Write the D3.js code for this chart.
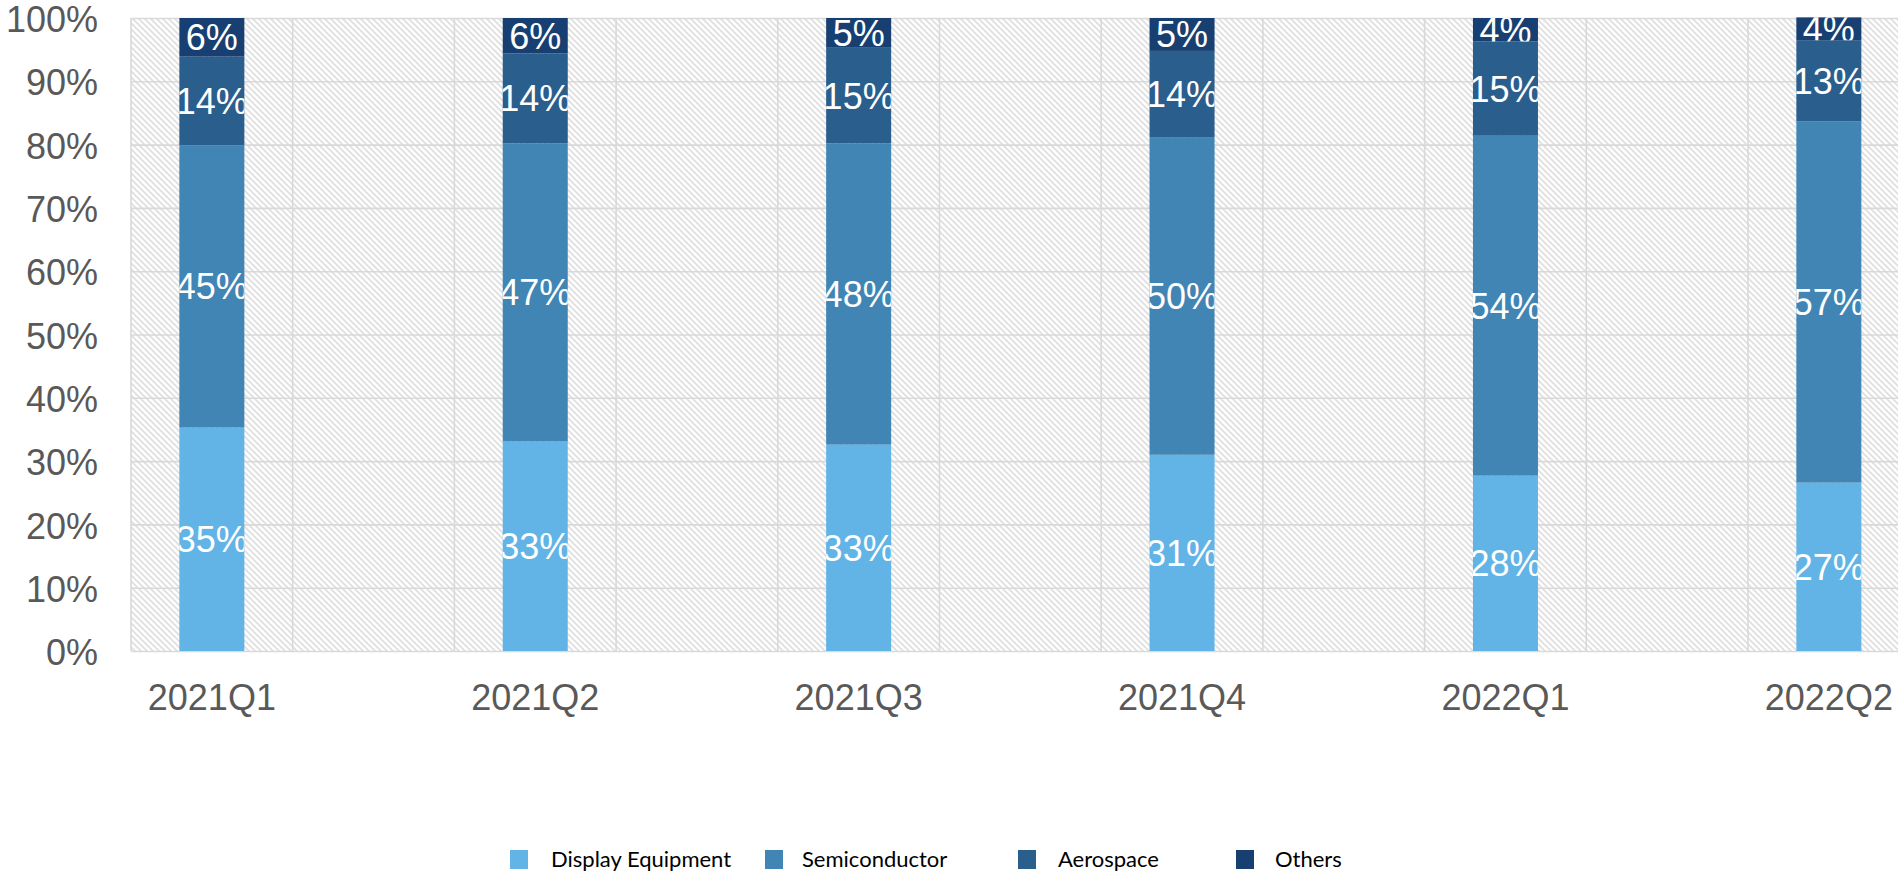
<!DOCTYPE html>
<html>
<head>
<meta charset="utf-8">
<script src="https://cdn.jsdelivr.net/npm/d3@7"></script>
<style>
  html, body { margin: 0; padding: 0; background: #fff; }
  svg { display: block; }
</style>
</head>
<body>
<svg id="chart" width="1898" height="873"></svg>
<script>
// ---- data ----
const categories = ["2021Q1", "2021Q2", "2021Q3", "2021Q4", "2022Q1", "2022Q2"];
const seriesNames = ["Display Equipment", "Semiconductor", "Aerospace", "Others"];
const displayEquipment = [35.3, 33.1, 32.6, 31.0, 27.7, 26.6];
const semiconductor    = [44.6, 47.1, 47.6, 50.1, 53.7, 57.1];
const aerospace        = [14.0, 14.2, 15.1, 13.7, 14.9, 12.8];
const others           = [6.1, 5.6, 4.7, 5.2, 3.7, 3.6];
const yTicks = [0, 10, 20, 30, 40, 50, 60, 70, 80, 90, 100];
const colors = ["#62b4e6", "#4185b5", "#2a5e8d", "#173f71"];

const seriesValues = [displayEquipment, semiconductor, aerospace, others];
const table = categories.map((c, i) => {
  const row = { category: c };
  seriesNames.forEach((s, j) => row[s] = seriesValues[j][i]);
  return row;
});

// ---- layout ----
const svg = d3.select("#chart");
const plotLeft = 131, plotRight = 1898, plotTop = 18, plotBottom = 651;

const y = d3.scaleLinear().domain([0, 100]).range([plotBottom, plotTop]);
const x = d3.scaleBand().domain(categories)
  .range([50.15, 1990.55]).paddingInner(0.799).paddingOuter(0.3995);
const step = x.step();

// defs: hatch pattern + clips
const defs = svg.append("defs");
const P = 6;
const pat = defs.append("pattern").attr("id", "hatch")
  .attr("patternUnits", "userSpaceOnUse").attr("width", P).attr("height", P);
pat.append("rect").attr("width", P).attr("height", P).attr("fill", "#ffffff");
pat.append("path").attr("d", `M-2,-2 L${P+2},${P+2} M-2,${P-2} L2,${P+2} M${P-2},-2 L${P+2},2`)
  .attr("stroke", "#e0e0e0").attr("stroke-width", 1.9);

defs.append("clipPath").attr("id", "plotClip").append("rect")
  .attr("x", plotLeft - 1).attr("y", plotTop - 2)
  .attr("width", plotRight - plotLeft + 2).attr("height", plotBottom - plotTop + 4);

// background hatch
svg.append("rect").attr("x", plotLeft).attr("y", plotTop)
  .attr("width", plotRight - plotLeft).attr("height", plotBottom - plotTop)
  .attr("fill", "url(#hatch)");

const gridColor = "#d9d9d9";
const plot = svg.append("g").attr("clip-path", "url(#plotClip)");

// vertical gridlines (quarter positions of each category band)
const vLines = [];
categories.forEach(c => {
  const cx = x(c) + x.bandwidth() / 2;
  vLines.push(cx - step / 4, cx + step / 4);
});
plot.append("g").selectAll("line").data(vLines).join("line")
  .attr("x1", d => d).attr("x2", d => d)
  .attr("y1", plotTop).attr("y2", plotBottom)
  .attr("stroke", gridColor).attr("stroke-width", 1.6);

// horizontal gridlines via axis
const gridAxis = d3.axisLeft(y).tickValues(yTicks).tickSize(-(plotRight - plotLeft)).tickFormat("");
const gg = plot.append("g").attr("transform", `translate(${plotLeft},0)`).call(gridAxis);
gg.select(".domain").remove();
gg.selectAll(".tick line").attr("stroke", gridColor).attr("stroke-width", 1.6);

// bars
const stack = d3.stack().keys(seriesNames);
const stacked = stack(table);

const barGroups = svg.append("g");
stacked.forEach((layer, li) => {
  layer.forEach((d, i) => {
    const id = `clip-${li}-${i}`;
    const bx = x(categories[i]);
    const by = y(d[1]);
    const bh = y(d[0]) - y(d[1]);
    defs.append("clipPath").attr("id", id).append("rect")
      .attr("x", bx).attr("y", by).attr("width", x.bandwidth()).attr("height", bh);
    const g = barGroups.append("g");
    g.append("rect")
      .attr("x", bx).attr("y", by).attr("width", x.bandwidth()).attr("height", bh)
      .attr("fill", colors[li]);
    g.append("text")
      .attr("clip-path", `url(#${id})`)
      .attr("x", bx + x.bandwidth() / 2)
      .attr("y", (y(d[0]) + y(d[1])) / 2)
      .attr("dy", "0.36em")
      .attr("text-anchor", "middle")
      .attr("font-family", "'Liberation Sans', Arial, sans-serif")
      .attr("font-size", 36)
      .attr("fill", "#ffffff")
      .text(Math.round(d[1] - d[0]) + "%");
  });
});

// y axis labels
const yAxis = d3.axisLeft(y).tickValues(yTicks).tickSize(0).tickPadding(33)
  .tickFormat(d => d + "%");
const ya = svg.append("g").attr("transform", `translate(${plotLeft},0)`).call(yAxis);
ya.select(".domain").remove();
ya.selectAll("text").attr("font-family", "'Liberation Sans', Arial, sans-serif")
  .attr("font-size", 36).attr("fill", "#595959").attr("dy", "0.38em");

// x axis labels
const xAxis = d3.axisBottom(x).tickSize(0).tickPadding(33);
const xa = svg.append("g").attr("transform", `translate(0,${plotBottom})`).call(xAxis);
xa.select(".domain").remove();
xa.selectAll("text").attr("font-family", "'Liberation Sans', Arial, sans-serif")
  .attr("font-size", 36).attr("fill", "#595959");

// legend
const legendX = [510, 765, 1018, 1236];
const legendTextX = [551, 802, 1058, 1275];
const legend = svg.append("g");
seriesNames.forEach((s, i) => {
  legend.append("rect").attr("x", legendX[i]).attr("y", 850)
    .attr("width", 18).attr("height", 19).attr("fill", colors[i]);
  legend.append("text").attr("x", legendTextX[i]).attr("y", 859).attr("dy", "0.35em")
    .attr("font-family", "Lato, 'Open Sans', sans-serif").attr("font-size", 22)
    .attr("fill", "#000").text(s);
});
</script>
</body>
</html>
